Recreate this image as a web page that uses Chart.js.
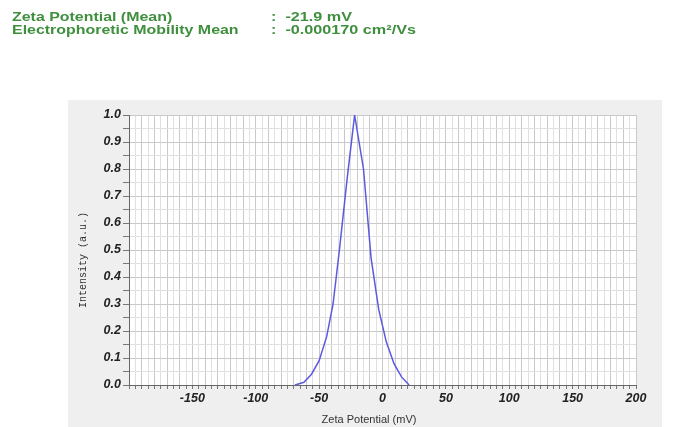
<!DOCTYPE html>
<html>
<head>
<meta charset="utf-8">
<script src="https://cdn.jsdelivr.net/npm/chart.js@4.4.1/dist/chart.umd.min.js"></script>
<style>
  html, body { margin: 0; padding: 0; background: #fff; }
  #wrap { position: relative; width: 682px; height: 427px; }
</style>
</head>
<body>
<div id="wrap"><canvas id="c" width="682" height="427"></canvas></div>
<script>
// zeta potential distribution
const zetaMv = [-69, -62, -56, -50, -44, -39, -34, -28, -22, -15, -9, -3, 3, 9, 15, 21];
const intensity = [0.0, 0.01, 0.04, 0.09, 0.18, 0.30, 0.50, 0.76, 1.0, 0.80, 0.47, 0.28, 0.16, 0.08, 0.03, 0.0];

const xLabels = [-150, -100, -50, 0, 50, 100, 150, 200];
const header = [
  ['Zeta Potential (Mean)', ':  -21.9 mV'],
  ['Electrophoretic Mobility Mean', ':  -0.000170 cm\u00b2/Vs']
];

const GREEN = '#3f8f3f';
const tickFont = { family: 'Liberation Sans, Arial, sans-serif', size: 12.5, weight: 'bold', style: 'italic' };

const decor = {
  id: 'decor',
  beforeDraw(chart) {
    const ctx = chart.ctx;
    ctx.save();
    ctx.fillStyle = '#fff';
    ctx.fillRect(0, 0, chart.width, chart.height);
    ctx.fillStyle = '#efefef';
    ctx.fillRect(68, 100, 594, 327);
    const a = chart.chartArea;
    ctx.fillStyle = '#fff';
    ctx.fillRect(a.left, a.top, a.right - a.left, a.bottom - a.top);
    // header text, stretched to the wide face of the original
    ctx.fillStyle = GREEN;
    ctx.font = 'bold 13.5px "Liberation Sans", Arial, sans-serif';
    ctx.textBaseline = 'alphabetic';
    header.forEach((row, i) => {
      const y = 21 + i * 12.5;
      ctx.save();
      ctx.translate(12, y);
      ctx.scale(1.18, 1);
      ctx.fillText(row[0], 0, 0);
      ctx.restore();
      ctx.save();
      ctx.translate(271, y);
      ctx.scale(1.2, 1);
      ctx.fillText(row[1], 0, 0);
      ctx.restore();
    });
    ctx.restore();
  },
  afterDraw(chart) {
    const ctx = chart.ctx;
    ctx.save();
    ctx.fillStyle = '#333';
    ctx.font = '11px "Liberation Sans", Arial, sans-serif';
    ctx.textAlign = 'center';
    ctx.textBaseline = 'middle';
    ctx.fillText('Zeta Potential (mV)', 369, 420);
    ctx.translate(83, 260);
    ctx.rotate(-Math.PI / 2);
    ctx.font = '10px "Liberation Mono", "DejaVu Sans Mono", monospace';
    ctx.fillText('Intensity (a.u.)', 0, 0);
    ctx.restore();
  }
};

new Chart(document.getElementById('c'), {
  type: 'line',
  data: {
    datasets: [{
      data: zetaMv.map((x, i) => ({ x, y: intensity[i] })),
      borderColor: '#5a5ae0',
      borderWidth: 1.5,
      pointRadius: 0,
      tension: 0,
      fill: false
    }]
  },
  options: {
    responsive: false,
    animation: false,
    layout: { padding: { left: 70, right: 46, top: 115, bottom: 0 } },
    plugins: { legend: { display: false }, tooltip: { enabled: false } },
    scales: {
      x: {
        type: 'linear',
        min: -200, max: 200,
        afterFit(s) { s.height = 42; },
        afterBuildTicks(s) {
          const t = [];
          for (let v = -200; v <= 200; v += 5) t.push({ value: v });
          s.ticks = t;
        },
        border: { color: '#666', width: 1 },
        grid: {
          color: c => (c.tick && c.tick.value % 10 === 0) ? '#c9c9c9' : '#e0e0e0',
          tickColor: '#777',
          tickLength: 4,
          drawTicks: true
        },
        ticks: {
          autoSkip: false,
          maxRotation: 0,
          padding: 2,
          color: '#222',
          font: tickFont,
          callback: v => xLabels.includes(v) ? String(v) : ''
        }
      },
      y: {
        min: 0, max: 1,
        afterFit(s) { s.width = 59; },
        afterBuildTicks(s) {
          const t = [];
          for (let i = 0; i <= 20; i++) t.push({ value: i / 20 });
          s.ticks = t;
        },
        border: { color: '#666', width: 1 },
        grid: {
          color: c => (c.tick && Math.round(c.tick.value * 20) % 2 === 0) ? '#c9c9c9' : '#e0e0e0',
          tickColor: '#777',
          tickLength: 6
        },
        ticks: {
          autoSkip: false,
          padding: 2,
          color: '#222',
          font: tickFont,
          callback: v => Math.round(v * 20) % 2 === 0 ? v.toFixed(1) : ''
        }
      }
    }
  },
  plugins: [decor]
});
</script>
</body>
</html>
